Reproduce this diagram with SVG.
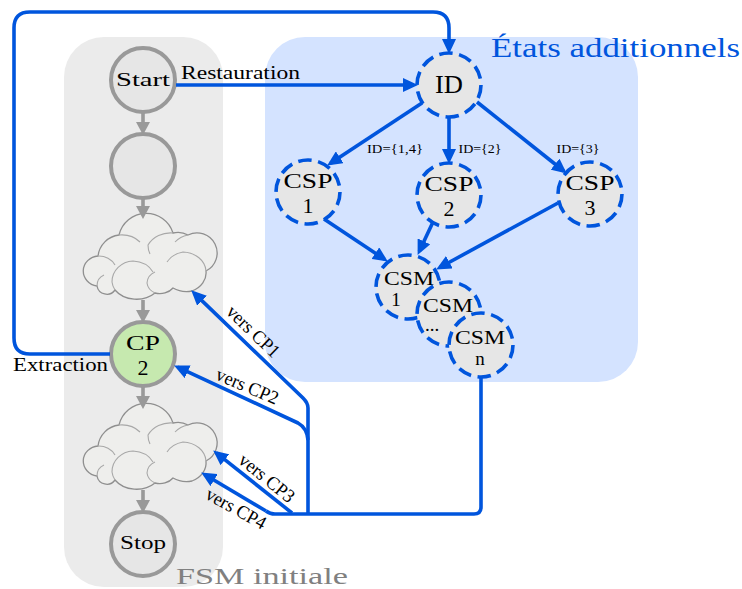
<svg xmlns="http://www.w3.org/2000/svg" width="742" height="589" viewBox="0 0 742 589">
<style>
text{font-family:"Liberation Serif","Times New Roman",serif;fill:#000;text-anchor:middle}
.g{fill:#e6e6e6;stroke:#999;stroke-width:4}
.d{fill:#e6e6e6;stroke:#0055dd;stroke-width:3.6;stroke-dasharray:13.5 6.6}
.b{fill:none;stroke:#0055dd;stroke-width:3.6;stroke-linejoin:round}
.a{marker-end:url(#ab)}
.y{fill:none;stroke:#999;stroke-width:3.6;marker-end:url(#ag)}
.n{font-size:22px}
.l{font-size:19px}
.s{font-size:13.5px}
.c{fill:#eeeeec;stroke:#8f8f8f;stroke-width:1.3}
.i{fill:none;stroke:#a8a8a8;stroke-width:1.1}
</style>
<defs>
<marker id="ab" markerUnits="userSpaceOnUse" viewBox="0 0 15 14" markerWidth="15" markerHeight="14" refX="11" refY="7" orient="auto"><path d="M0 0L15 7L0 14Z" fill="#0055dd"/></marker>
<marker id="ag" markerUnits="userSpaceOnUse" viewBox="0 0 13 14" markerWidth="13" markerHeight="14" refX="9" refY="7" orient="auto"><path d="M0 0L13 7L0 14Z" fill="#999"/></marker>
<g id="cloud">
<path class="c" d="M97 286A16 15.100 0 0 1 98 256A24 24 0 0 1 119 235A28 28 0 0 1 173 233A20 20 0 0 1 188 235A20.100 20.100 0 0 1 206 271A24 20 0 0 1 192 291A24 20 0 0 1 173 288A16 13 0 0 1 155 293A26 21 0 0 1 115 290A10 10 0 0 1 97 286Z"/>
<path class="i" d="M98 256A18 16 0 0 1 115 265M97 286Q97 278 104 275M115 290A26 21 0 0 1 112 282A22 21 0 0 1 133 261A24 20 0 0 1 153 272M155 293A16 13 0 0 1 147 283A13 13 0 0 1 155 272M206 271A24 20 0 0 0 183 252A24 20 0 0 0 167 262M188 235A23 20 0 0 0 175 242M173 233A26 24 0 0 0 148 245Q148 250 150 254M119 235A24 20 0 0 1 140 242"/>
</g>
</defs>
<g id="zones">
<rect x="64" y="37" width="159" height="550" rx="40" fill="#ebebeb"/>
<rect x="265" y="37" width="373" height="345" rx="40" fill="#d4e3ff"/>
<text x="615.5" y="57" font-size="28" style="fill:#0055dd" textLength="249" lengthAdjust="spacingAndGlyphs">États additionnels</text>
<text x="262" y="583.500" font-size="24" style="fill:#808080" textLength="172" lengthAdjust="spacingAndGlyphs">FSM initiale</text>
</g>
<g id="start"><circle class="g" cx="143" cy="80" r="32"/><text class="l" x="143" y="86" textLength="54" lengthAdjust="spacingAndGlyphs">Start</text></g>
<g id="empty"><circle class="g" cx="143" cy="166" r="32"/></g>
<g id="cloud1"><use href="#cloud"/></g>
<g id="cp2"><circle class="g" style="fill:#c6e9af" cx="143" cy="354" r="32"/><text class="n" x="143" y="350" textLength="34" lengthAdjust="spacingAndGlyphs">CP</text><text class="n" x="143" y="375">2</text></g>
<g id="cloud2"><use href="#cloud" y="190"/></g>
<g id="stop"><circle class="g" cx="143" cy="544" r="32"/><text class="l" x="143" y="549" textLength="46" lengthAdjust="spacingAndGlyphs">Stop</text></g>
<g id="id"><circle class="d" cx="449" cy="85" r="32"/><text x="449" y="93" font-size="25" textLength="28" lengthAdjust="spacingAndGlyphs">ID</text></g>
<g id="csp1"><circle class="d" cx="308" cy="192" r="32"/><text class="n" x="308" y="188" textLength="49" lengthAdjust="spacingAndGlyphs">CSP</text><text class="n" x="308" y="213">1</text></g>
<g id="csp2"><circle class="d" cx="449" cy="195" r="32"/><text class="n" x="449" y="191" textLength="49" lengthAdjust="spacingAndGlyphs">CSP</text><text class="n" x="449" y="216">2</text></g>
<g id="csp3"><circle class="d" cx="590" cy="194" r="32"/><text class="n" x="590" y="190" textLength="49" lengthAdjust="spacingAndGlyphs">CSP</text><text class="n" x="590" y="215">3</text></g>
<g id="csm1"><circle class="d" cx="408" cy="287" r="32"/><text class="l" x="409" y="285" textLength="50" lengthAdjust="spacingAndGlyphs">CSM</text><text class="l" x="396" y="306">1</text></g>
<g id="csm2"><circle class="d" cx="449" cy="314" r="32"/><text class="l" x="448" y="312" textLength="50" lengthAdjust="spacingAndGlyphs">CSM</text><text class="l" x="432" y="331">...</text></g>
<g id="csmn"><circle class="d" cx="481" cy="345" r="32"/><text class="l" x="480" y="344" textLength="50" lengthAdjust="spacingAndGlyphs">CSM</text><text class="l" x="480" y="365">n</text></g>
<g id="connectors">
<path class="y" d="M143 112V131"/>
<path class="y" d="M143 198V215"/>
<path class="y" d="M143 300V319"/>
<path class="y" d="M143 386V405"/>
<path class="y" d="M143 490V509"/>
<path class="b a" d="M110 354H30Q14 354 14 338V28Q14 12 30 12H433Q449 12 449 28V50"/>
<path class="b a" d="M176 85H414"/>
<path class="b a" d="M422 103L330.500 163.300"/>
<path class="b a" d="M449 117V160"/>
<path class="b a" d="M477 102L563.700 171"/>
<path class="b a" d="M324 219L384.500 259.300"/>
<path class="b a" d="M433 222L419.300 251.300"/>
<path class="b a" d="M558 203L439.700 267.500"/>
<path class="b" d="M481 377V507Q481 514 474 514H275Q270 514 266 511"/>
<path class="b a" d="M266 511L204.600 474.500"/>
<path class="b a" d="M292 513L216.300 452.900"/>
<path class="b a" d="M308 514V408Q308 403 303 398L194.100 293.100"/>
<path class="b a" d="M308 440Q307 428 298 423L177.700 367.200"/>
</g>
<g id="labels">
<text class="l" x="240.500" y="79" textLength="119" lengthAdjust="spacingAndGlyphs">Restauration</text>
<text class="l" x="60.500" y="371" textLength="95" lengthAdjust="spacingAndGlyphs">Extraction</text>
<text class="s" x="395" y="153" textLength="56" lengthAdjust="spacingAndGlyphs">ID={1,4}</text>
<text class="s" x="480" y="153" textLength="43" lengthAdjust="spacingAndGlyphs">ID={2}</text>
<text class="s" x="578" y="153" textLength="43" lengthAdjust="spacingAndGlyphs">ID={3}</text>
<text class="l" transform="translate(249,336) rotate(44)" textLength="66" lengthAdjust="spacingAndGlyphs">vers CP1</text>
<text class="l" transform="translate(245,392) rotate(23)" textLength="66" lengthAdjust="spacingAndGlyphs">vers CP2</text>
<text class="l" transform="translate(263,483) rotate(39)" textLength="66" lengthAdjust="spacingAndGlyphs">vers CP3</text>
<text class="l" transform="translate(233,514) rotate(29)" textLength="66" lengthAdjust="spacingAndGlyphs">vers CP4</text>
</g>
</svg>
